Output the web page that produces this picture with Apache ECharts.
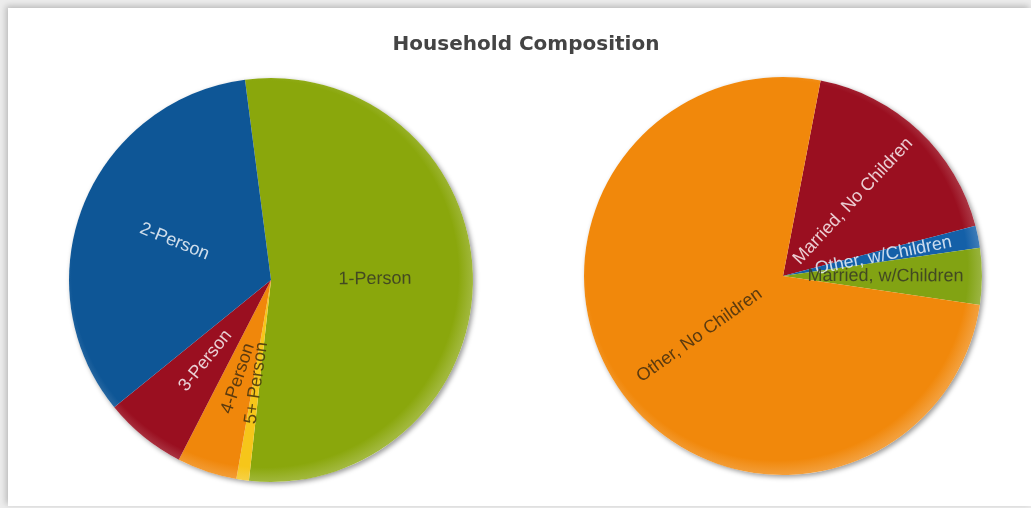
<!DOCTYPE html>
<html>
<head>
<meta charset="utf-8">
<script src="https://cdn.jsdelivr.net/npm/echarts@6/dist/echarts.min.js"></script>
<style>
  html, body { margin: 0; padding: 0; background: #ececec; }
  #frame {
    position: absolute; left: 8px; top: 8px; width: 1023px; height: 498px;
    background: #fff; box-shadow: -2px -2px 6px rgba(0,0,0,0.22);
  }
  #chart { position: absolute; left: -8px; top: -8px; width: 1031px; height: 508px; }
</style>
</head>
<body>
<div id="frame"><div id="chart"></div></div>
<script>
// 左边：家庭人数构成（顺时针，从顶部偏左开始）
const sizeNames = ['1-Person', '5+ Person', '4-Person', '3-Person', '2-Person'];
const sizeValues = [53.8, 1.0, 4.8, 6.6, 33.8];
const sizeColors = ['#8aa70c', '#f6c61a', '#f0870b', '#9a0f20', '#0e5696'];
const sizeLabelColors = ['#3b3f25', '#4a3a10', '#4a3210', '#f2e6e8', '#e4ecf4'];

// 右边：家庭类型构成
const typeNames = ['Married, No Children', 'Other, w/Children', 'Married, w/Children', 'Other, No Children'];
const typeValues = [17.9, 1.8, 4.6, 75.7];
const typeColors = ['#9a0f20', '#1460a8', '#82a313', '#f1880b'];
const typeLabelColors = ['#f4e2e6', '#dfeaf6', '#3b3f25', '#4a3210'];

// 边缘略微变暗，用全局坐标的径向渐变
const makeData = (names, values, colors, labelColors, cx, cy, r) =>
  names.map((n, i) => ({
    name: n,
    value: values[i],
    itemStyle: {
      color: {
        type: 'radial', x: cx - 6, y: cy - 6, r: r + 6, global: true,
        colorStops: [
          {offset: 0, color: colors[i]},
          {offset: 0.93, color: colors[i]},
          {offset: 1, color: echarts.color.lift(colors[i], 0.2)}
        ]
      }
    },
    label: {color: labelColors[i]}
  }));

const pieBase = {
  type: 'pie',
  silent: true,
  clockwise: true,
  avoidLabelOverlap: false,
  labelLayout: {hideOverlap: false},
  label: {
    show: true,
    position: 'inside',
    rotate: 'radial',
    fontFamily: 'Liberation Sans, Arial, sans-serif',
    fontSize: 18,
    opacity: 0.9
  },
  labelLine: {show: false},
  itemStyle: {borderWidth: 0}
};

// 阴影单独画一层，免得盖住各扇区
const shadowPie = (cx, cy, r) => ({
  type: 'pie', silent: true, center: [cx, cy], radius: r,
  label: {show: false}, labelLine: {show: false}, z: 1,
  data: [{value: 1, itemStyle: {
    color: '#fff', shadowBlur: 5, shadowOffsetX: 2, shadowOffsetY: 2,
    shadowColor: 'rgba(0,0,0,0.4)'
  }}]
});

let myChart = echarts.init(document.getElementById('chart'));
myChart.setOption({
  animation: false,
  title: {
    text: 'Household Composition',
    left: 521,
    top: 30,
    textAlign: 'center',
    textStyle: {
      fontFamily: 'DejaVu Sans, Verdana, sans-serif',
      fontWeight: 'bold',
      fontSize: 20,
      color: '#444'
    }
  },
  series: [
    shadowPie(271, 280, 202),
    shadowPie(783, 276, 199),
    Object.assign({}, pieBase, {
      z: 2,
      center: [271, 280],
      radius: 202,
      startAngle: 97.4,
      data: makeData(sizeNames, sizeValues, sizeColors, sizeLabelColors, 271, 280, 202)
    }),
    Object.assign({}, pieBase, {
      z: 2,
      center: [783, 276],
      radius: 199,
      startAngle: 79.1,
      data: makeData(typeNames, typeValues, typeColors, typeLabelColors, 783, 276, 199)
    })
  ]
});
</script>
</body>
</html>
